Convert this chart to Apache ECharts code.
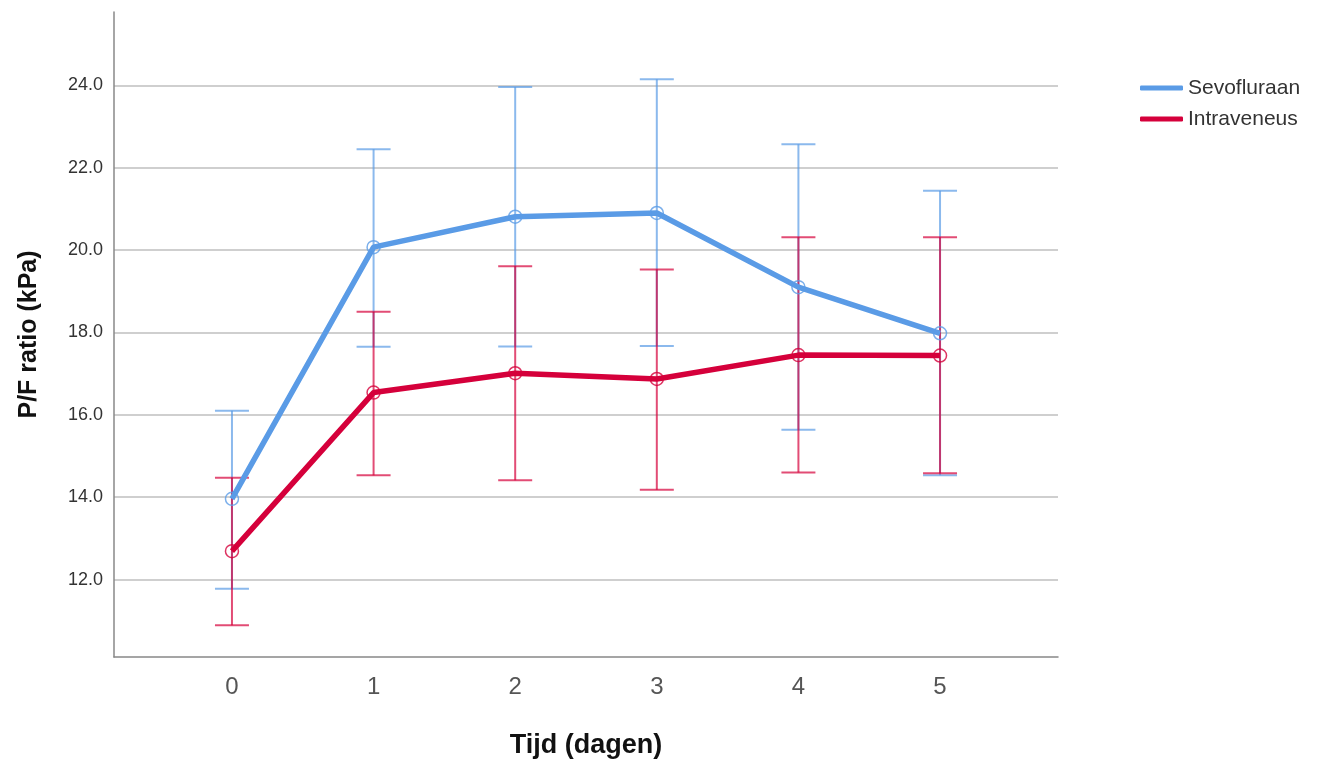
<!DOCTYPE html>
<html>
<head>
<meta charset="utf-8">
<script src="https://cdn.jsdelivr.net/npm/echarts@6/dist/echarts.min.js"></script>
<style>
  html, body { margin: 0; padding: 0; background: #fff; }
  #chart { width: 1318px; height: 764px; }
</style>
</head>
<body>
<div id="chart"></div>
<script>
// dagen (x-as)
const days = [0, 1, 2, 3, 4, 5];
const yTicks = [12, 14, 16, 18, 20, 22, 24];

// Sevofluraan: gemiddelde en foutbalk (onder / boven)
const sevoMean = [13.96, 20.07, 20.81, 20.90, 19.10, 17.98];
const sevoLow = [11.78, 17.65, 17.66, 17.67, 15.64, 14.53];
const sevoHigh = [16.10, 22.45, 23.96, 24.15, 22.57, 21.44];

// Intraveneus
const ivMean = [12.69, 16.54, 17.01, 16.87, 17.45, 17.44];
const ivLow = [10.89, 14.53, 14.41, 14.18, 14.60, 14.58];
const ivHigh = [14.47, 18.50, 19.61, 19.53, 20.31, 20.31];

const blue = "#5a9be6";
const red = "#d5003b";

const chart = echarts.init(document.getElementById("chart"));

// foutbalk tekenen met caps
const errorBar = (color) => (params, api) => {
  const x = api.value(0);
  const lo = api.coord([x, api.value(1)]);
  const hi = api.coord([x, api.value(2)]);
  const w = 17;
  const style = { stroke: color, lineWidth: 2, opacity: 0.7 };
  return {
    type: "group",
    children: [
      { type: "line", shape: { x1: lo[0], y1: lo[1], x2: hi[0], y2: hi[1] }, style },
      { type: "line", shape: { x1: hi[0] - w, y1: hi[1], x2: hi[0] + w, y2: hi[1] }, style },
      { type: "line", shape: { x1: lo[0] - w, y1: lo[1], x2: lo[0] + w, y2: lo[1] }, style },
    ],
  };
};

const lineSeries = (name, values, color) => ({
  name,
  type: "line",
  data: days.map((d, i) => [d, values[i]]),
  symbol: "circle",
  symbolSize: 13,
  lineStyle: { color, width: 5.5 },
  itemStyle: { color: "transparent", borderColor: color, borderWidth: 1.5, opacity: 0.8 },
  z: 3,
});

const option = {
  backgroundColor: "#fff",
  animation: false,
  grid: { left: 114, right: 260, top: 12, bottom: 107 },
  legend: {
    data: [
      { name: "Sevofluraan", itemStyle: { color: blue, borderWidth: 0, opacity: 1 } },
      { name: "Intraveneus", itemStyle: { color: red, borderWidth: 0, opacity: 1 } },
    ],
    orient: "vertical",
    left: 1135,
    top: 70,
    icon: "roundRect",
    itemWidth: 43,
    itemHeight: 5,
    itemGap: 5,
    textStyle: {
      fontFamily: "Liberation Sans",
      fontSize: 21,
      lineHeight: 26,
      color: "#333",
    },
  },
  xAxis: {
    type: "value",
    min: -0.833,
    max: 5.833,
    name: "Tijd (dagen)",
    nameLocation: "middle",
    nameGap: 75,
    nameTextStyle: {
      fontFamily: "Liberation Sans",
      fontWeight: "bold",
      fontSize: 27,
      color: "#111",
    },
    axisLine: { onZero: false, lineStyle: { color: "#888", width: 1.5 } },
    axisTick: { show: false, customValues: days },
    splitLine: { show: false },
    axisLabel: {
      customValues: days,
      margin: 18,
      fontFamily: "Liberation Sans",
      fontSize: 24,
      color: "#555",
    },
  },
  yAxis: {
    type: "value",
    min: 10.12,
    max: 25.78,
    name: "P/F ratio (kPa)",
    nameLocation: "middle",
    nameGap: 72,
    nameTextStyle: {
      fontFamily: "Liberation Sans",
      fontWeight: "bold",
      fontSize: 25,
      color: "#111",
    },
    axisLine: { show: true, onZero: false, lineStyle: { color: "#888", width: 1.5 } },
    axisTick: { show: false, customValues: yTicks },
    splitLine: { show: true, lineStyle: { color: "#cfcfcf", width: 2 } },
    axisLabel: {
      customValues: yTicks,
      margin: 11,
      fontFamily: "Liberation Sans",
      fontSize: 18,
      color: "#333",
      formatter: (v) => v.toFixed(1),
    },
  },
  series: [
    {
      name: "Sevofluraan-fout",
      type: "custom",
      renderItem: errorBar(blue),
      data: days.map((d, i) => [d, sevoLow[i], sevoHigh[i]]),
      z: 2,
    },
    {
      name: "Intraveneus-fout",
      type: "custom",
      renderItem: errorBar(red),
      data: days.map((d, i) => [d, ivLow[i], ivHigh[i]]),
      z: 2,
    },
    lineSeries("Sevofluraan", sevoMean, blue),
    lineSeries("Intraveneus", ivMean, red),
  ],
};

chart.setOption(option);
</script>
</body>
</html>
